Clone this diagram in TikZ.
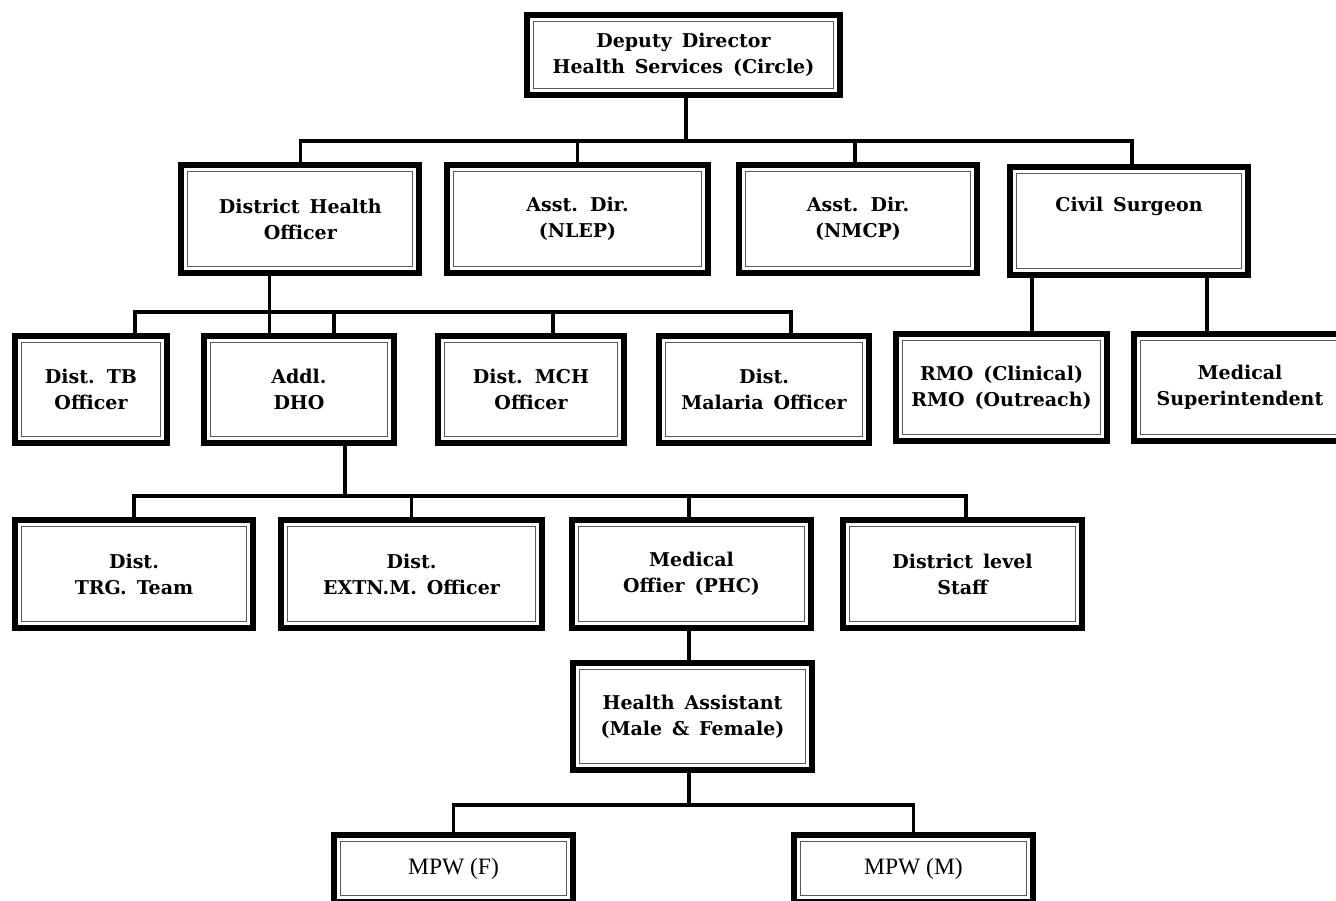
\documentclass[tikz,border=0pt]{standalone}
\usepackage{fontspec}
\setmainfont{DejaVu Serif}
\newfontfamily\boxfont[WordSpace=1.5]{DejaVu Serif Bold}
\newfontfamily\mpwfont{Liberation Serif}
\begin{document}
\begin{tikzpicture}[x=1pt,y=-1pt,
  orgbox/.style={draw=black, line width=6pt, inner sep=0pt, outer sep=0pt,
    align=center, text=black, font=\boxfont\fontsize{19}{26}\selectfont,
    path picture={\draw[black!65, line width=1.3pt]
      ([shift={(6.5,6.5)}]path picture bounding box.north west) rectangle
      ([shift={(-6.5,-6.5)}]path picture bounding box.south east);}},
  mpwbox/.style={orgbox, font=\mpwfont\fontsize{23.5}{26}\selectfont},
  conn/.style={line width=3.4pt, line join=miter, draw=black}]
\useasboundingbox (0,0) rectangle (1336,901);
\clip (0,0) rectangle (1336,901);

% boxes
\node[orgbox, minimum width=313, minimum height=80] (top) at (683.5,55) {Deputy Director\\Health Services (Circle)};

\node[orgbox, minimum width=238, minimum height=108] (dho) at (300.3,219) {District Health\\Officer};
\node[orgbox, minimum width=261, minimum height=108] (nlep) at (577.5,219) {Asst. Dir.\\(NLEP)};
\node[orgbox, minimum width=238, minimum height=108] (nmcp) at (858,219) {Asst. Dir.\\(NMCP)};
\node[orgbox, minimum width=238, minimum height=108] (cs) at (1129,221) {Civil Surgeon\\\strut};

\node[orgbox, minimum width=152, minimum height=107] (tb) at (91,389.5) {Dist. TB\\Officer};
\node[orgbox, minimum width=190, minimum height=107] (addl) at (299,389.5) {Addl.\\DHO};
\node[orgbox, minimum width=186, minimum height=107] (mch) at (531,389.5) {Dist. MCH\\Officer};
\node[orgbox, minimum width=210, minimum height=107] (mal) at (764,389.5) {Dist.\\Malaria Officer};
\node[orgbox, minimum width=211, minimum height=107] (rmo) at (1001.5,387.5) {RMO (Clinical)\\RMO (Outreach)};
\node[orgbox, minimum width=212, minimum height=107] (msup) at (1240,387.5) {Medical\\Superintendent};

\node[orgbox, minimum width=238, minimum height=108] (trg) at (134,574) {Dist.\\TRG. Team};
\node[orgbox, minimum width=261, minimum height=108] (extn) at (411.5,574) {Dist.\\EXTN.M. Officer};
\node[orgbox, minimum width=239, minimum height=108] (mo) at (691.5,574) {Medical\\Offier (PHC)};
\node[orgbox, minimum width=239, minimum height=108] (dls) at (962.5,574) {District level\\Staff};

\node[orgbox, minimum width=239, minimum height=107] (ha) at (692.5,716.5) {Health Assistant\\(Male \& Female)};

\node[mpwbox, minimum width=239, minimum height=67] (mpwf) at (453.5,868.5) {MPW (F)};
\node[mpwbox, minimum width=239, minimum height=67] (mpwm) at (913.5,868.5) {MPW (M)};

% connectors
\coordinate (b1) at (0,141);
\coordinate (b2) at (0,312);
\coordinate (b3) at (0,496);
\coordinate (b4) at (0,805);

\coordinate (tops) at ([xshift=2.5]top.south);
\coordinate (csn) at ([xshift=3]cs.north);
\coordinate (nmcpn) at ([xshift=-3]nmcp.north);
\draw[conn] (tops) -- (tops |- b1);
\draw[conn] (dho.north) -- (dho.north |- b1) -- (csn |- b1) -- (csn);
\draw[conn] (nlep.north) -- (nlep.north |- b1);
\draw[conn] (nmcpn) -- (nmcpn |- b1);

\coordinate (dhos) at ([xshift=-31]dho.south);
\coordinate (tbn) at ([xshift=44]tb.north);
\coordinate (addn) at ([xshift=35]addl.north);
\coordinate (mchn) at ([xshift=22]mch.north);
\coordinate (maln) at ([xshift=27]mal.north);
\draw[conn] (dhos) -- (dhos |- addl.north);
\draw[conn] (tbn) -- (tbn |- b2) -- (maln |- b2) -- (maln);
\draw[conn] (addn) -- (addn |- b2);
\draw[conn] (mchn) -- (mchn |- b2);

\coordinate (cs1) at ([xshift=-97]cs.south);
\coordinate (cs2) at ([xshift=78]cs.south);
\draw[conn] (cs1) -- (cs1 |- rmo.north);
\draw[conn] (cs2) -- (cs2 |- msup.north);

\coordinate (adds) at ([xshift=46]addl.south);
\coordinate (mon) at ([xshift=-2.5]mo.north);
\coordinate (mos) at ([xshift=-2.5]mo.south);
\coordinate (dlsn) at ([xshift=3.5]dls.north);
\draw[conn] (adds) -- (adds |- b3);
\draw[conn] (trg.north) -- (trg.north |- b3) -- (dlsn |- b3) -- (dlsn);
\draw[conn] (extn.north) -- (extn.north |- b3);
\draw[conn] (mon) -- (mon |- b3);
\draw[conn] (mos) -- (mos |- ha.north);

\coordinate (has) at ([xshift=-3.5]ha.south);
\draw[conn] (has) -- (has |- b4);
\draw[conn] (mpwf.north) -- (mpwf.north |- b4) -- (mpwm.north |- b4) -- (mpwm.north);
\end{tikzpicture}
\end{document}
